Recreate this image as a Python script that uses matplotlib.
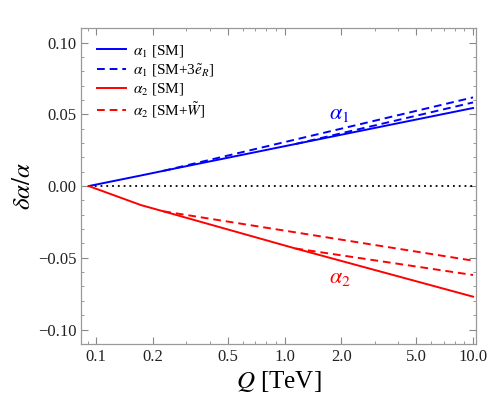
import numpy as np
import matplotlib
matplotlib.use('Agg')
import matplotlib.pyplot as plt
from matplotlib.ticker import FixedLocator, FixedFormatter

plt.rcParams['font.family'] = ['Liberation Serif', 'DejaVu Serif']
plt.rcParams['mathtext.fontset'] = 'stix'

# node points (Q in TeV, delta alpha / alpha), straight in log Q between nodes
q_a1_sm = [0.0912, 0.173, 0.227, 1.14, 10.0]
a1_sm = [0.0, 0.0074, 0.0106, 0.0293, 0.0544]
q_a1_new_lo = [0.227, 10.0]
a1_new_lo = [0.0106, 0.0618]
q_a1_new_hi = [1.14, 10.0]
a1_new_hi = [0.0293, 0.0583]

q_a2_sm = [0.0912, 0.173, 0.227, 1.14, 10.0]
a2_sm = [0.0, -0.0133, -0.0176, -0.0435, -0.0771]
q_a2_new_lo = [0.227, 10.0]
a2_new_lo = [-0.0176, -0.052]
q_a2_new_hi = [1.14, 10.0]
a2_new_hi = [-0.0435, -0.062]

xticks = [0.1, 0.2, 0.5, 1.0, 2.0, 5.0, 10.0]
xticklabels = ['0.1', '0.2', '0.5', '1.0', '2.0', '5.0', '10.0']
yticks = [-0.10, -0.05, 0.0, 0.05, 0.10]
yticklabels = ['\u22120.10', '\u22120.05', '0.00', '0.05', '0.10']

blue = '#0000ff'
red = '#ff0000'

fig = plt.figure(figsize=(4.91, 3.98), dpi=100)
ax = fig.add_axes([0.165, 0.136, 0.805, 0.793])
ax.set_xscale('log')

ax.plot([0.0912, 10.0], [0, 0], color='black', lw=1.3, ls=(0, (1, 2.2)))
ax.plot(q_a1_sm, a1_sm, color=blue, lw=1.4, label=r'$\alpha_1$ [SM]')
ax.plot(q_a1_new_lo, a1_new_lo, color=blue, lw=1.4, ls=(0, (4, 2.5)),
        label=r'$\alpha_1$ [SM+3$\tilde{e}_R$]')
ax.plot(q_a1_new_hi, a1_new_hi, color=blue, lw=1.4, ls=(0, (4, 2.5)))
ax.plot(q_a2_sm, a2_sm, color=red, lw=1.4, label=r'$\alpha_2$ [SM]')
ax.plot(q_a2_new_lo, a2_new_lo, color=red, lw=1.4, ls=(0, (4, 2.5)),
        label=r'$\alpha_2$ [SM+$\tilde{W}$]')
ax.plot(q_a2_new_hi, a2_new_hi, color=red, lw=1.4, ls=(0, (4, 2.5)))

ax.text(1.95, 0.050, r'$\alpha_1$', color=blue, fontsize=16, ha='center', va='center')
ax.text(1.97, -0.0645, r'$\alpha_2$', color=red, fontsize=16, ha='center', va='center')

ax.set_xlim(0.083, 10.4)
ax.set_ylim(-0.11, 0.11)

ax.xaxis.set_major_locator(FixedLocator(xticks))
ax.xaxis.set_major_formatter(FixedFormatter(xticklabels))
minor_x = [0.09, 0.3, 0.4, 0.6, 0.7, 0.8, 0.9, 3, 4, 6, 7, 8, 9]
ax.xaxis.set_minor_locator(FixedLocator(minor_x))
ax.xaxis.set_minor_formatter(FixedFormatter([''] * len(minor_x)))
ax.yaxis.set_major_locator(FixedLocator(yticks))
ax.yaxis.set_major_formatter(FixedFormatter(yticklabels))
ax.yaxis.set_minor_locator(FixedLocator(np.arange(-0.11, 0.111, 0.01)))

ax.tick_params(which='both', direction='in', top=True, right=True,
               color='#888888', labelsize=12, labelcolor='#222222')
ax.tick_params(which='major', length=5, width=0.8)
ax.tick_params(which='minor', length=2.5, width=0.6)
for s in ax.spines.values():
    s.set_color('#999999')
    s.set_linewidth(0.9)

ax.set_xlabel(r'$Q$ [TeV]', fontsize=18, labelpad=3)
ax.set_ylabel(r'$\delta\alpha/\alpha$', fontsize=18, labelpad=2)

ax.legend(loc='upper left', frameon=False, fontsize=11, handlelength=1.9,
          handletextpad=0.45, labelspacing=0.18, borderaxespad=0.0,
          bbox_to_anchor=(0.025, 0.972))

fig.savefig('out.png', dpi=100)
